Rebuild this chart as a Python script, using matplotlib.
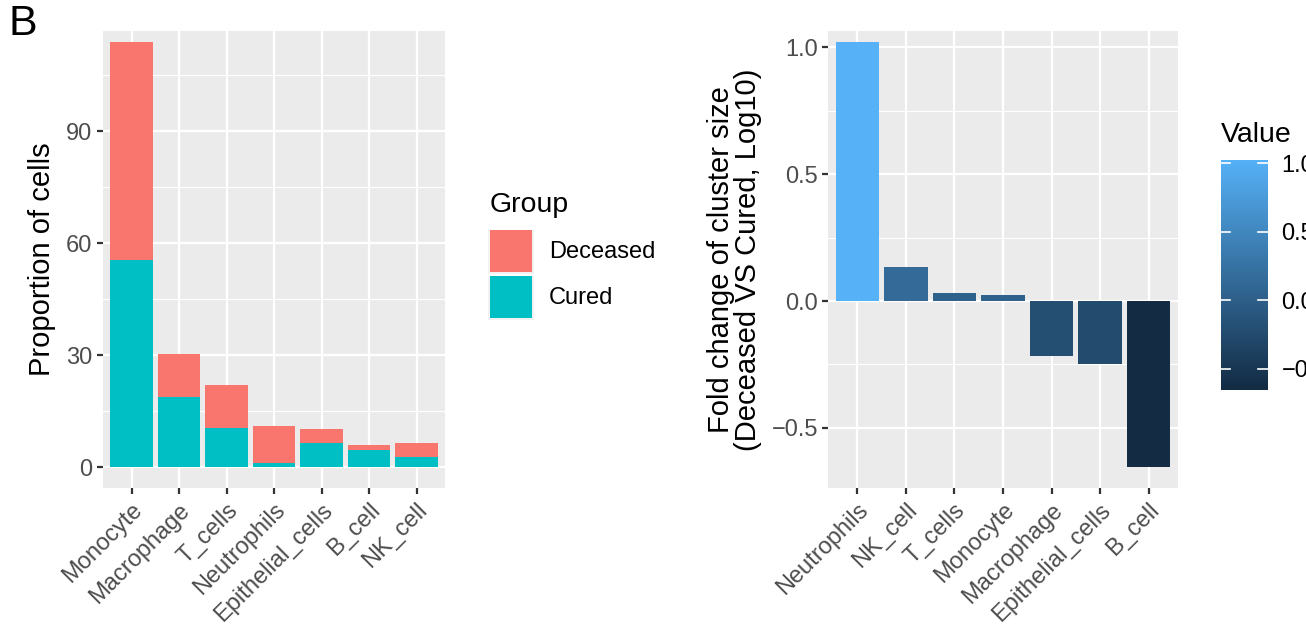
import numpy as np
import matplotlib
matplotlib.use('Agg')
import matplotlib.pyplot as plt
from matplotlib.colors import LinearSegmentedColormap, Normalize
from matplotlib.patches import Rectangle

plt.rcParams['font.family'] = ['Liberation Sans', 'DejaVu Sans']

# left panel: proportion of cells per group (stacked)
cells = ['Monocyte', 'Macrophage', 'T_cells', 'Neutrophils', 'Epithelial_cells', 'B_cell', 'NK_cell']
cured = [55.4, 18.8, 10.6, 1.0, 6.5, 4.7, 2.6]
deceased = [58.4, 11.5, 11.4, 10.1, 3.7, 1.2, 3.9]

# right panel: log10 fold change
fc_cells = ['Neutrophils', 'NK_cell', 'T_cells', 'Monocyte', 'Macrophage', 'Epithelial_cells', 'B_cell']
fc_vals = [1.022, 0.135, 0.030, 0.024, -0.217, -0.248, -0.653]

W, H = 1306, 625
fig = plt.figure(figsize=(W / 100, H / 100), dpi=100)

def px(x0, y0, x1, y1):
    return [x0 / W, 1 - y1 / H, (x1 - x0) / W, (y1 - y0) / H]

grey_txt = '#4D4D4D'
tick_col = '#333333'
TICK_FS = 17
TITLE_FS = 21

def gg_style(ax, minor_y):
    ax.set_facecolor('#EBEBEB')
    for s in ax.spines.values():
        s.set_visible(False)
    ax.set_axisbelow(True)
    ax.grid(True, which='major', color='white', lw=1.6)
    ax.set_yticks(minor_y, minor=True)
    ax.grid(True, which='minor', axis='y', color='white', lw=0.8)
    ax.tick_params(which='major', color=tick_col, length=4.5, width=1.6,
                   labelsize=TICK_FS, labelcolor=grey_txt, pad=3)
    ax.tick_params(axis='x', which='major', pad=3.5)
    ax.tick_params(which='minor', length=0)
    ax.tick_params(axis='x', which='minor', bottom=False)

# ---- left
ax1 = fig.add_axes(px(103, 31, 445, 488))
x = np.arange(len(cells))
ax1.bar(x, cured, width=0.9, color='#00BFC4', label='Cured')
ax1.bar(x, deceased, width=0.9, bottom=cured, color='#F8766D', label='Deceased')
ax1.set_xlim(-0.6, len(cells) - 0.4)
ax1.set_ylim(-5.6, 116.8)
ax1.set_yticks([0, 30, 60, 90])
ax1.set_xticks(x)
ax1.set_xticklabels(cells, rotation=45, ha='right', va='top', rotation_mode='anchor')
gg_style(ax1, [15, 45, 75, 105])
ax1.set_ylabel('Proportion of cells', fontsize=TITLE_FS, labelpad=7)

# legend drawn by hand in ggplot style
fig.text(490 / W, 1 - 212 / H, 'Group', fontsize=20.5, ha='left', va='baseline')
for i, (lab, col) in enumerate([('Deceased', '#F8766D'), ('Cured', '#00BFC4')]):
    y0 = 230 + i * 46
    fig.patches.append(Rectangle((488 / W, 1 - (y0 + 44) / H), 46 / W, 44 / H,
                                 transform=fig.transFigure, facecolor='#F2F2F2',
                                 edgecolor='none'))
    fig.patches.append(Rectangle((490 / W, 1 - (y0 + 42) / H), 42 / W, 42 / H,
                                 transform=fig.transFigure, facecolor=col,
                                 edgecolor='none'))
    fig.text(549 / W, 1 - (y0 + 22) / H, lab, fontsize=17, ha='left', va='center')

# ---- right
cmap = LinearSegmentedColormap.from_list('gg', ['#132B43', '#56B1F7'])
norm = Normalize(vmin=min(fc_vals), vmax=max(fc_vals))
ax2 = fig.add_axes(px(828.3, 31, 1177.7, 488))
x2 = np.arange(len(fc_cells))
ax2.bar(x2, fc_vals, width=0.9, color=cmap(norm(np.array(fc_vals))))
ax2.set_xlim(-0.6, len(fc_cells) - 0.4)
ax2.set_ylim(-0.737, 1.065)
ax2.set_yticks([-0.5, 0.0, 0.5, 1.0])
ax2.set_yticklabels(['\u22120.5', '0.0', '0.5', '1.0'])
ax2.set_xticks(x2)
ax2.set_xticklabels(fc_cells, rotation=45, ha='right', va='top', rotation_mode='anchor')
gg_style(ax2, [-0.25, 0.25, 0.75])
ax2.set_ylabel('Fold change of cluster size\n(Deceased VS Cured, Log10)', fontsize=TITLE_FS,
               labelpad=7, linespacing=0.95)

# colorbar
cax = fig.add_axes(px(1221, 160, 1267.7, 390))
grad = np.linspace(norm.vmin, norm.vmax, 256).reshape(-1, 1)
cax.imshow(grad, aspect='auto', cmap=cmap, norm=norm, origin='lower',
           extent=[0, 1, norm.vmin, norm.vmax])
cax.set_xlim(0, 1)
cax.set_ylim(norm.vmin, norm.vmax)
cax.set_xticks([])
cb_ticks = [-0.5, 0.0, 0.5, 1.0]
for t in cb_ticks:
    cax.plot([0, 0.2], [t, t], color='white', lw=1.2)
    cax.plot([0.8, 1], [t, t], color='white', lw=1.2)
cax.yaxis.tick_right()
cax.set_yticks(cb_ticks)
cax.set_yticklabels(['\u22120.5', '0.0', '0.5', '1.0'])
cax.tick_params(axis='y', length=0, labelsize=17, pad=10)
for s in cax.spines.values():
    s.set_visible(False)
fig.text(1221 / W, 1 - 142 / H, 'Value', fontsize=20.5, ha='left', va='baseline')

fig.text(9 / W, 1 - 35 / H, 'B', fontsize=31, ha='left', va='baseline')

fig.savefig('out.png', dpi=100)
